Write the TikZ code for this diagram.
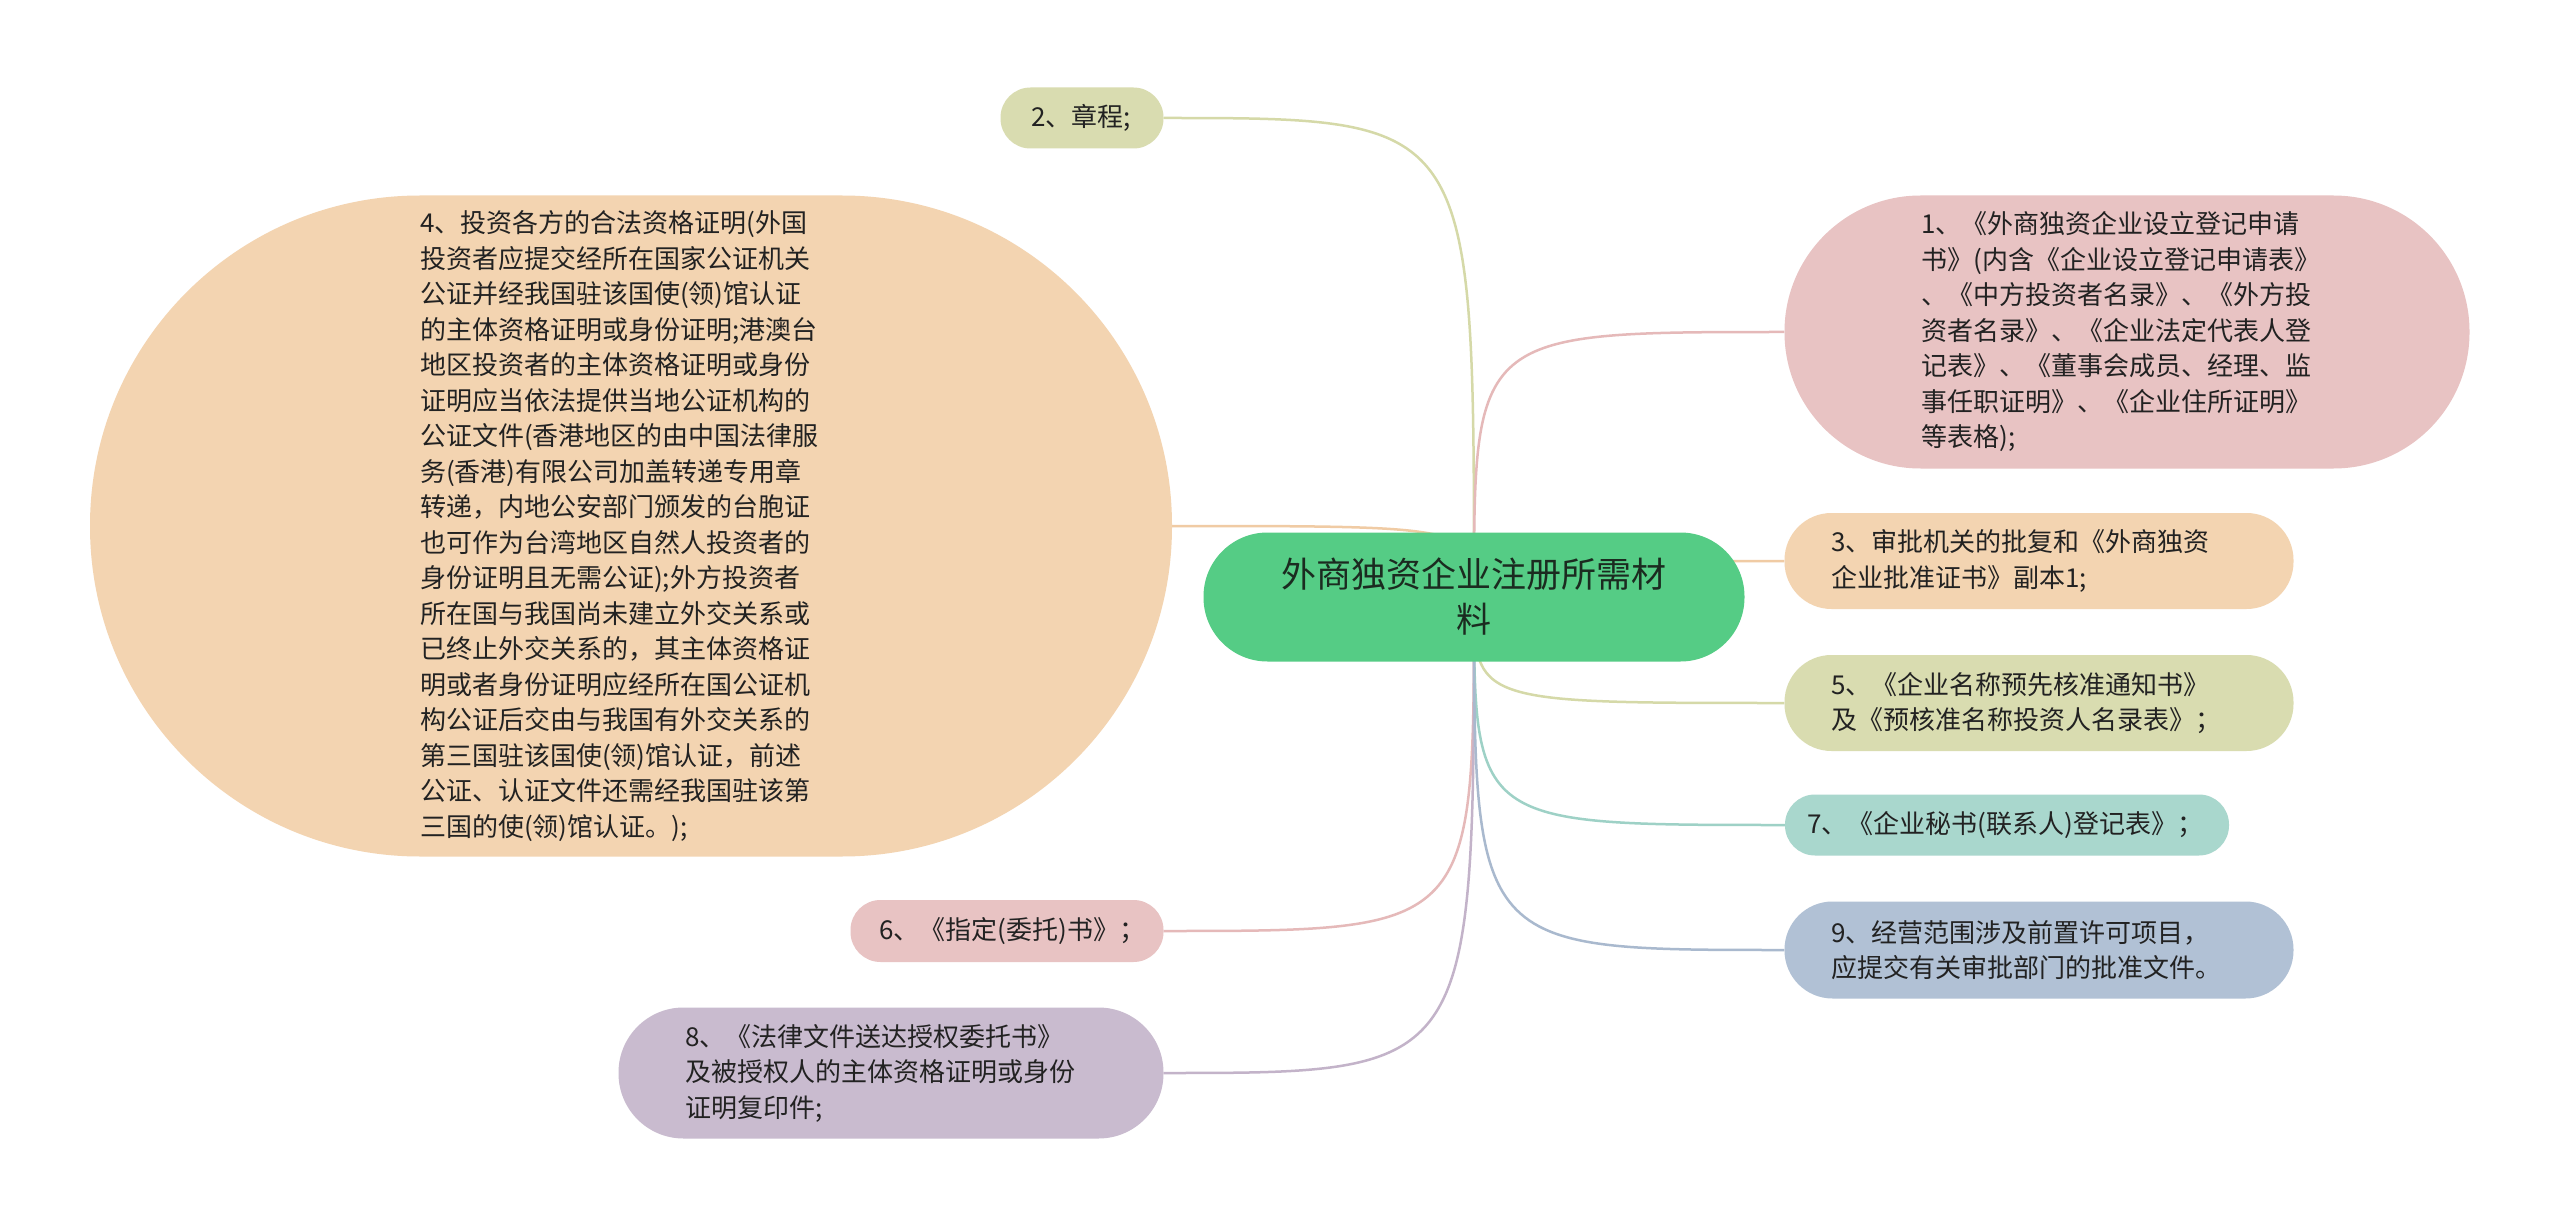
\documentclass[tikz,border=0pt]{standalone}
\usepackage{fontspec}
\newfontfamily\cjk{Noto Sans CJK SC}
\usetikzlibrary{backgrounds}
\definecolor{rootfill}{HTML}{55CC85}
\definecolor{roottext}{HTML}{1B2B20}
\definecolor{kidtext}{HTML}{222222}
\definecolor{olive}{HTML}{D9DCB0}
\definecolor{peach}{HTML}{F3D4B1}
\definecolor{pink}{HTML}{E8C3C3}
\definecolor{teal}{HTML}{A9D7CD}
\definecolor{bluegray}{HTML}{B1C1D5}
\definecolor{lavender}{HTML}{C9BBCF}
\definecolor{oliveline}{HTML}{D5D9A8}
\definecolor{peachline}{HTML}{F0CBA4}
\definecolor{pinkline}{HTML}{E5B9B9}
\definecolor{tealline}{HTML}{9ED1C6}
\definecolor{blueline}{HTML}{A9B9CE}
\definecolor{lavline}{HTML}{C3B3C9}
\newcommand\kidfont{\cjk\fontsize{26pt}{35.5pt}\selectfont}
\newcommand\rootfont{\cjk\fontsize{35pt}{45pt}\selectfont}
\tikzset{
  kid/.style={rectangle, draw=none, align=left, font=\kidfont, text=kidtext, inner ysep=0pt},
  rootbox/.style={rectangle, draw=none, fill=rootfill, align=center, font=\rootfont, text=roottext,
    minimum width=541pt, minimum height=129pt, rounded corners=64pt},
  conn/.style={line width=2.5pt},
}
\begin{document}
\begin{tikzpicture}[x=1pt,y=-1pt]
\useasboundingbox (0,0) rectangle (2560,1230);

\node[rootbox] (root) at (1474,597) {外商独资企业注册所需材\\料};

\node[kid, fill=olive, minimum width=163pt, minimum height=61pt, rounded corners=30pt,
  text width=101pt, inner xsep=31pt] (n2) at (1082,118) {2、章程;};

\node[kid, fill=peach, minimum width=1082pt, minimum height=661pt, rounded corners=330pt,
  text width=422pt, inner xsep=330pt] (n4) at (631,526) {4、投资各方的合法资格证明(外国\\
投资者应提交经所在国家公证机关\\
公证并经我国驻该国使(领)馆认证\\
的主体资格证明或身份证明;港澳台\\
地区投资者的主体资格证明或身份\\
证明应当依法提供当地公证机构的\\
公证文件(香港地区的由中国法律服\\
务(香港)有限公司加盖转递专用章\\
转递，内地公安部门颁发的台胞证\\
也可作为台湾地区自然人投资者的\\
身份证明且无需公证);外方投资者\\
所在国与我国尚未建立外交关系或\\
已终止外交关系的，其主体资格证\\
明或者身份证明应经所在国公证机\\
构公证后交由与我国有外交关系的\\
第三国驻该国使(领)馆认证，前述\\
公证、认证文件还需经我国驻该第\\
三国的使(领)馆认证。);};

\node[kid, fill=pink, minimum width=313pt, minimum height=62pt, rounded corners=30pt,
  text width=255pt, inner xsep=29pt] (n6) at (1007,931) {6、《指定(委托)书》；};

\node[kid, fill=lavender, minimum width=545pt, minimum height=131pt, rounded corners=65pt,
  text width=411pt, inner xsep=67pt] (n8) at (891,1073) {8、《法律文件送达授权委托书》\\
及被授权人的主体资格证明或身份\\
证明复印件;};

\node[kid, fill=pink, minimum width=685pt, minimum height=273pt, rounded corners=136pt,
  text width=411pt, inner xsep=137pt] (n1) at (2127,332) {1、《外商独资企业设立登记申请\\
书》(内含《企业设立登记申请表》\\
、《中方投资者名录》、《外方投\\
资者名录》、《企业法定代表人登\\
记表》、《董事会成员、经理、监\\
事任职证明》、《企业住所证明》\\
等表格);};

\node[kid, fill=peach, minimum width=509pt, minimum height=96pt, rounded corners=47pt,
  text width=415pt, inner xsep=47pt] (n3) at (2039,561) {3、审批机关的批复和《外商独资\\
企业批准证书》副本1;};

\node[kid, fill=olive, minimum width=509pt, minimum height=96pt, rounded corners=47pt,
  text width=415pt, inner xsep=47pt] (n5) at (2039,703) {5、《企业名称预先核准通知书》\\
及《预核准名称投资人名录表》；};

\node[kid, fill=teal, minimum width=444pt, minimum height=61pt, rounded corners=30pt,
  text width=400pt, inner xsep=22pt] (n7) at (2007,825) {7、《企业秘书(联系人)登记表》；};

\node[kid, fill=bluegray, minimum width=509pt, minimum height=97pt, rounded corners=48pt,
  text width=415pt, inner xsep=47pt] (n9) at (2039,950) {9、经营范围涉及前置许可项目，\\
应提交有关审批部门的批准文件。};

\begin{pgfonlayer}{background}
\fill[white] (0,0) rectangle (2560,1230);
\draw[conn, oliveline] (root.center) .. controls (root.center |- n2.east) .. (n2.east);
\draw[conn, peachline] (root.center) .. controls (root.center |- n4.east) .. (n4.east);
\draw[conn, pinkline] (root.center) .. controls (root.center |- n6.east) .. (n6.east);
\draw[conn, lavline] (root.center) .. controls (root.center |- n8.east) .. (n8.east);
\draw[conn, pinkline] (root.center) .. controls (root.center |- n1.west) .. (n1.west);
\draw[conn, peachline] (root.center) .. controls (root.center |- n3.west) .. (n3.west);
\draw[conn, oliveline] (root.center) .. controls (root.center |- n5.west) .. (n5.west);
\draw[conn, tealline] (root.center) .. controls (root.center |- n7.west) .. (n7.west);
\draw[conn, blueline] (root.center) .. controls (root.center |- n9.west) .. (n9.west);
\end{pgfonlayer}
\end{tikzpicture}
\end{document}
